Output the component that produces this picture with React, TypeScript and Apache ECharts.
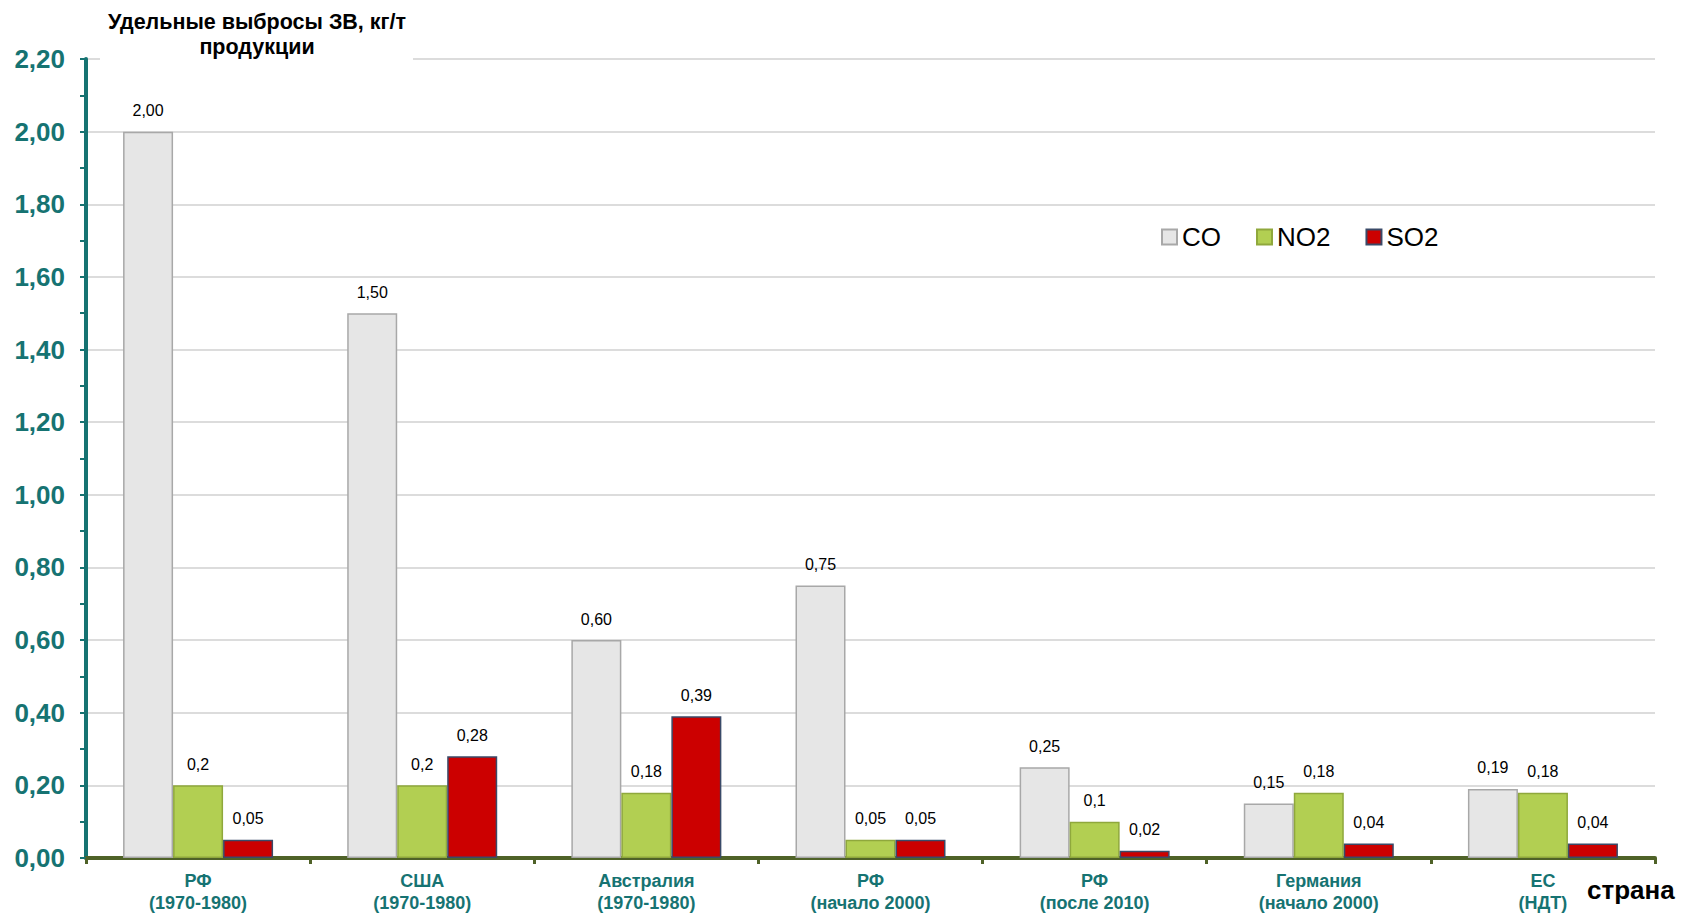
import React, { useEffect, useRef } from "react";
import * as echarts from "echarts";

const categories = [
  "РФ\n(1970-1980)",
  "США\n(1970-1980)",
  "Австралия\n(1970-1980)",
  "РФ\n(начало 2000)",
  "РФ\n(после 2010)",
  "Германия\n(начало 2000)",
  "ЕС\n(НДТ)",
];
const seriesNames = ["CO", "NO2", "SO2"];
const coValues = [2.0, 1.5, 0.6, 0.75, 0.25, 0.15, 0.19];
const no2Values = [0.2, 0.2, 0.18, 0.05, 0.1, 0.18, 0.18];
const so2Values = [0.05, 0.28, 0.39, 0.05, 0.02, 0.04, 0.04];
const yTicks = { min: 0, max: 2.2, interval: 0.2 };
const titleLines = ["Удельные выбросы ЗВ, кг/т", "продукции"];
const xAxisName = "страна";

const FONT = "'Liberation Sans', Arial, sans-serif";
const TEAL = "#167372";

export default function App() {
  const ref = useRef<HTMLDivElement>(null);
  useEffect(() => {
    document.body.style.margin = "0";
    const chart = echarts.init(ref.current!, null, { renderer: "svg" });
    const comma = (v: number, fixed: boolean) =>
      (fixed ? v.toFixed(2) : String(v)).replace(".", ",");
    const mkSeries = (
      name: string,
      data: number[],
      color: string,
      border: string,
      fixed: boolean
    ) => ({
      name,
      type: "bar",
      data,
      barWidth: 50,
      barGap: "0%",
      itemStyle: { color, borderColor: border, borderWidth: 1.5 },
      label: {
        show: true,
        position: "top",
        distance: 13,
        color: "#000",
        fontFamily: FONT,
        fontSize: 16,
        formatter: (p: any) => comma(p.value, fixed),
      },
    });
    chart.setOption({
      animation: false,
      backgroundColor: "#fff",
      textStyle: { fontFamily: FONT },
      grid: { left: 86, right: 27, top: 59, bottom: 56, containLabel: false },
      legend: {
        data: seriesNames,
        left: 1156,
        top: 219,
        icon: "rect",
        itemWidth: 15,
        itemHeight: 15,
        itemGap: 35,
        textStyle: { fontSize: 26, color: "#000", fontFamily: FONT, padding: [0, 0, 0, 0] },
      },
      xAxis: {
        type: "category",
        data: categories,
        axisLine: { lineStyle: { color: "#4F6228", width: 4 } },
        axisTick: { show: true, length: 6, lineStyle: { color: "#4F6228", width: 3 } },
        axisLabel: {
          color: TEAL,
          fontWeight: "bold",
          fontSize: 18,
          lineHeight: 22,
          margin: 12,
          fontFamily: FONT,
        },
      },
      yAxis: {
        type: "value",
        min: yTicks.min,
        max: yTicks.max,
        interval: yTicks.interval,
        axisLine: { show: true, lineStyle: { color: TEAL, width: 4 } },
        axisTick: { show: true, length: 6, lineStyle: { color: TEAL, width: 2 } },
        minorTick: { show: true, splitNumber: 2, length: 6, lineStyle: { color: TEAL, width: 2 } },
        splitLine: { show: true, lineStyle: { color: "#D0D0D0", width: 1.5 } },
        axisLabel: {
          color: TEAL,
          fontWeight: "bold",
          fontSize: 26,
          margin: 21,
          fontFamily: FONT,
          formatter: (v: number) => v.toFixed(2).replace(".", ","),
        },
      },
      series: [
        mkSeries(seriesNames[0], coValues, "#E6E6E6", "#A8A8A8", true),
        mkSeries(seriesNames[1], no2Values, "#B2CF52", "#8FA83C", false),
        mkSeries(seriesNames[2], so2Values, "#CC0000", "#3A4A68", false),
      ],
      graphic: [
        { type: "rect", left: 100, top: 0, shape: { width: 313, height: 66 }, style: { fill: "#fff" }, z: 100 },
        {
          type: "text",
          x: 257,
          y: 22,
          z: 101,
          style: {
            text: titleLines[0],
            fill: "#000",
            font: `bold 21.5px ${FONT}`,
            textAlign: "center",
            textVerticalAlign: "middle",
          },
        },
        {
          type: "text",
          x: 257,
          y: 47,
          z: 101,
          style: {
            text: titleLines[1],
            fill: "#000",
            font: `bold 21.5px ${FONT}`,
            textAlign: "center",
            textVerticalAlign: "middle",
          },
        },
        {
          type: "text",
          x: 1587,
          y: 890,
          z: 101,
          style: {
            text: xAxisName,
            fill: "#000",
            font: `bold 26px ${FONT}`,
            textAlign: "left",
            textVerticalAlign: "middle",
          },
        },
      ],
    });
    return () => chart.dispose();
  }, []);
  return <div ref={ref} style={{ width: 1682, height: 914 }} />;
}
